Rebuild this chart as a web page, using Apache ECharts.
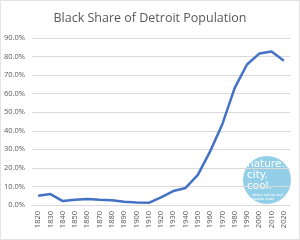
<!DOCTYPE html>
<html>
<head>
<meta charset="utf-8">
<script src="https://cdn.jsdelivr.net/npm/echarts@6/dist/echarts.min.js"></script>
<style>
  html, body { margin: 0; padding: 0; background: #fff; }
  #chart { width: 300px; height: 240px; box-sizing: border-box; border: 1px solid #e4e4e4; }
</style>
</head>
<body>
<div id="chart"></div>
<script>
const years = ["1820", "1830", "1840", "1850", "1860", "1870", "1880", "1890", "1900", "1910",
  "1920", "1930", "1940", "1950", "1960", "1970", "1980", "1990", "2000", "2010", "2020"];
const blackShare = [5.0, 5.9, 2.1, 2.8, 3.2, 2.8, 2.5, 1.8, 1.4, 1.2,
  4.1, 7.5, 9.2, 16.2, 28.9, 43.7, 63.1, 75.7, 81.6, 82.7, 77.7];

const chart = echarts.init(document.getElementById("chart"));
chart.setOption({
  animation: false,
  title: {
    text: "Black Share of Detroit Population",
    left: "center",
    top: 6,
    textStyle: { fontFamily: "Open Sans", fontSize: 12.5, fontWeight: "normal", color: "#595959" },
  },
  grid: { left: 31, right: 9, top: 37, bottom: 34 },
  xAxis: {
    type: "category",
    data: years,
    boundaryGap: true,
    axisLine: { lineStyle: { color: "#d9d9d9" } },
    axisTick: { show: false },
    axisLabel: { rotate: 90, fontFamily: "Open Sans", fontSize: 7.5, color: "#595959", margin: 6, interval: 0 },
  },
  yAxis: {
    type: "value",
    min: 0,
    max: 90,
    interval: 10,
    axisLine: { show: false },
    axisTick: { show: false },
    axisLabel: { formatter: (v) => v.toFixed(1) + "%", fontFamily: "Open Sans", fontSize: 7.5, color: "#595959", margin: 7 },
    splitLine: { lineStyle: { color: "#d9d9d9" } },
  },
  series: [
    {
      type: "line",
      data: blackShare,
      showSymbol: false,
      lineStyle: { color: "#4472C4", width: 2.5 },
    },
  ],
  graphic: [
    { type: "circle", shape: { cx: 266, cy: 179, r: 24 }, style: { fill: "#93cfe8" } },
    {
      type: "text",
      left: 246,
      top: 158,
      style: { text: "nature.\ncity.\ncool.", fill: "#fff", font: "10.5px 'DejaVu Sans'", lineHeight: 11 },
    },
    {
      type: "text",
      left: 251,
      top: 192,
      style: { text: "where nature and\npeople meet", fill: "#fff", font: "3.5px 'DejaVu Sans'", lineHeight: 4, align: "center", x: 15 },
    },
  ],
});
</script>
</body>
</html>
